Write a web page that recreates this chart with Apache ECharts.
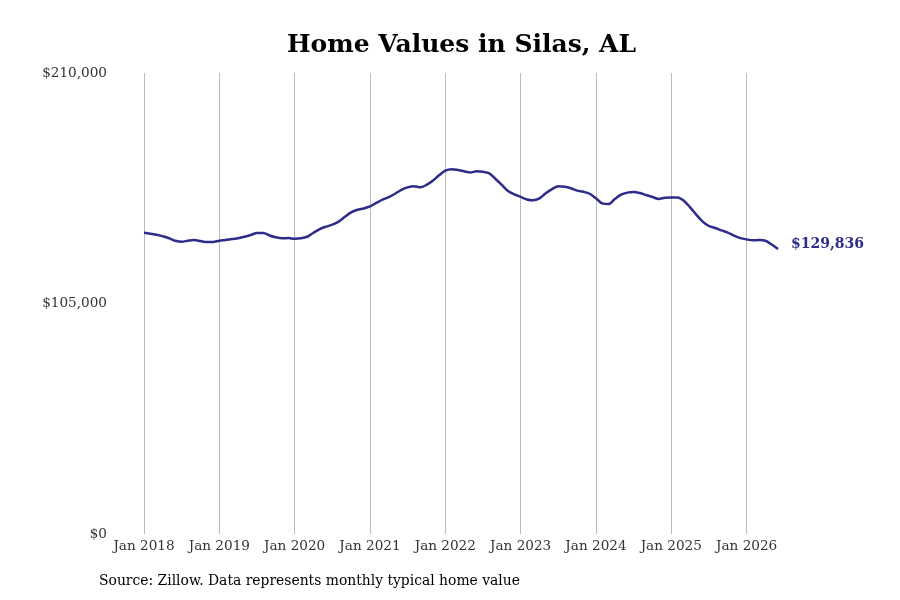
<!DOCTYPE html>
<html>
<head>
<meta charset="utf-8">
<script src="https://cdn.jsdelivr.net/npm/echarts@6/dist/echarts.min.js"></script>
<style>
  html, body { margin: 0; padding: 0; background: #fff; }
  #main { width: 900px; height: 600px; }
</style>
</head>
<body>
<div id="main"></div>
<script>
var chartDom = document.getElementById('main');
var myChart = echarts.init(chartDom);
var option;

let serif = '"DejaVu Serif", serif';
let lineColor = '#2e2c8a';

// monthly typical home value, Jan 2018 .. Jun 2026
let years = [2018, 2019, 2020, 2021, 2022, 2023, 2024, 2025, 2026];
let monthNames = ['Jan','Feb','Mar','Apr','May','Jun','Jul','Aug','Sep','Oct','Nov','Dec'];
let homeValues = [
  137240, 136800, 136350, 135600, 134700, 133600, 133150, 133600, 133900, 133450, 133000, 133000,
  133600, 133900, 134400, 134700, 135400, 136200, 137100, 137100, 136000, 135150, 134700, 134800,
  134500, 134700, 135400, 137250, 138900, 140000, 140900, 142300, 144500, 146500, 147700, 148300,
  149200, 150800, 152300, 153500, 155000, 156800, 157900, 158400, 157900, 159000, 160900, 163400,
  165500, 166200, 165800, 165200, 164700, 165200, 165000, 164300, 161700, 159000, 156200, 154700,
  153600, 152400, 152000, 152900, 155200, 157100, 158400, 158200, 157500, 156400, 155900, 155000,
  152900, 150600, 150300, 152600, 154600, 155500, 155800, 155300, 154400, 153500, 152600, 153200,
  153300, 153300, 151800, 148800, 145400, 142300, 140300, 139400, 138300, 137300, 135900, 134800,
  134200, 133800, 133900, 133600, 131900, 129836
];
let lastLabel = '$129,836';

let months = [];
for (var i = 0; i < homeValues.length; i++) {
  months.push(monthNames[i % 12] + ' ' + years[Math.floor(i / 12)]);
}

function isJan(idx) {
  return idx % 12 === 0;
}

option = {
  backgroundColor: '#fff',
  animation: false,
  title: {
    text: 'Home Values in Silas, AL',
    left: 282,
    top: 28,
    textStyle: {
      fontFamily: serif,
      fontWeight: 'bold',
      fontSize: 25,
      color: '#000'
    }
  },
  graphic: [{
    type: 'text',
    left: 99,
    top: 574,
    style: {
      text: 'Source: Zillow. Data represents monthly typical home value',
      font: '13.9px ' + serif,
      fill: '#000'
    }
  }],
  grid: {
    left: 144,
    right: 122,
    top: 73,
    bottom: 66,
    containLabel: false
  },
  xAxis: {
    type: 'category',
    data: months,
    boundaryGap: false,
    axisLine: { show: false },
    axisTick: { show: false },
    axisLabel: {
      interval: function (idx) { return isJan(idx); },
      fontFamily: serif,
      fontSize: 13.6,
      color: '#333',
      margin: 5
    },
    splitLine: {
      show: true,
      interval: function (idx) { return isJan(idx); },
      lineStyle: { color: '#bbb', width: 1 }
    }
  },
  yAxis: {
    type: 'value',
    min: 0,
    max: 210000,
    interval: 105000,
    axisLine: { show: false },
    axisTick: { show: false },
    splitLine: { show: false },
    axisLabel: {
      fontFamily: serif,
      fontSize: 13.6,
      color: '#333',
      margin: 37,
      formatter: function (v) { return '$' + v.toLocaleString('en-US'); }
    }
  },
  series: [{
    name: 'Home Value',
    type: 'line',
    data: homeValues,
    showSymbol: false,
    smooth: 0.3,
    lineStyle: { color: lineColor, width: 2.5 },
    itemStyle: { color: lineColor },
    endLabel: {
      show: true,
      formatter: lastLabel,
      distance: 13,
      offset: [0, -5],
      fontFamily: serif,
      fontWeight: 'bold',
      fontSize: 14,
      color: lineColor
    }
  }]
};

option && myChart.setOption(option);
</script>
</body>
</html>
